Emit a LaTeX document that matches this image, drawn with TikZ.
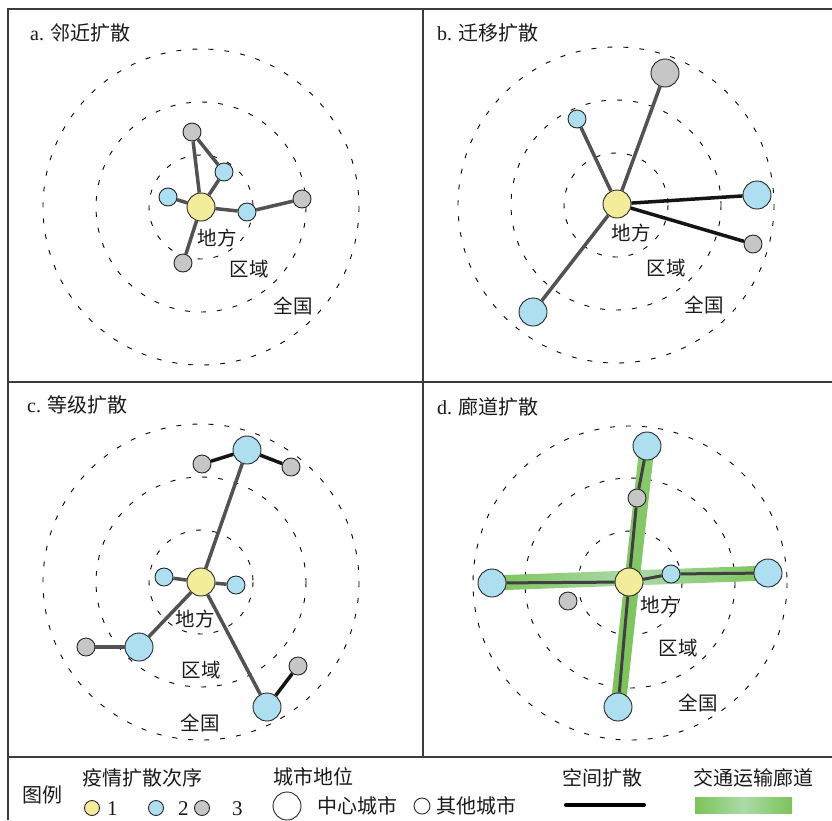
\documentclass[tikz,border=0pt]{standalone}
\usepackage{fontspec}
\setmainfont{Liberation Serif}
\newfontfamily\cjk{Noto Sans CJK SC}
\usetikzlibrary{calc,backgrounds}
\definecolor{yel}{HTML}{F2EC9B}
\definecolor{blu}{HTML}{AEDFF1}
\definecolor{gry}{HTML}{C6C6C6}
\definecolor{edgegray}{HTML}{525252}
\definecolor{framec}{HTML}{3C3C3C}
\definecolor{gdark}{HTML}{7CC35A}
\definecolor{glight}{HTML}{ABDAA8}
\definecolor{txt}{HTML}{1A1A1A}
\begin{document}
\begin{tikzpicture}[x=1pt,y=-1pt,
  city/.style={circle,draw=black!85,line width=0.9pt,inner sep=0pt},
  bigcity/.style={city,minimum size=28pt},
  smallcity/.style={city,minimum size=18pt},
  cen/.style={bigcity,fill=yel},
  bb/.style={bigcity,fill=blu},
  sb/.style={smallcity,fill=blu},
  bg/.style={bigcity,fill=gry},
  sg/.style={smallcity,fill=gry},
  ring/.style={draw=black,line width=0.9pt,dash pattern=on 5pt off 11pt},
  link/.style={draw=edgegray,line width=3.5pt},
  blink/.style={draw=black!92,line width=3.5pt},
  clink/.style={draw=black!75,line width=3pt},
  lbl/.style={font=\cjk\fontsize{19.5}{20}\selectfont,inner sep=0pt,text=txt},
  ttl/.style={anchor=west,font=\fontsize{20}{22}\selectfont,inner sep=0pt,text=txt},
  leg/.style={anchor=west,font=\cjk\fontsize{20}{22}\selectfont,inner sep=0pt,text=txt},
  legnum/.style={anchor=west,font=\fontsize{21}{22}\selectfont,inner sep=0pt,text=txt},
  framel/.style={draw=framec,line width=2.8pt}
]
\useasboundingbox (0,0) rectangle (832,820);

% frame
\draw[framel] (8,820) -- (8,9) -- (832,9);
\draw[framel] (423,9) -- (423,757);
\draw[framel] (8,382) -- (832,382);
\draw[framel] (8,757) -- (832,757);

% ---------- panel a ----------
\node[ttl] (ta) at (30,33) {a. {\cjk 邻近扩散}};
\node[cen] (ca) at (201,207) {};
\node[sb] (a1) at (168,197) {};
\node[sb] (a2) at (224,172) {};
\node[sb] (a3) at (247,212) {};
\node[sg] (a4) at (192,132) {};
\node[sg] (a5) at (302,199) {};
\node[sg] (a6) at (183,263) {};
\draw[link] (ca) -- (a4);
\draw[link] (a4) -- (a2);
\draw[link] (a2) -- (ca);
\draw[link] (ca) -- (a1);
\draw[link] (ca) -- (a3);
\draw[link] (a3) -- (a5);
\draw[link] (ca) -- (a6);
\node[lbl] (la1) at (217,238) {地方};
\node[lbl] (la2) at (249,269) {区域};
\node[lbl] (la3) at (293,306) {全国};

% ---------- panel b ----------
\node[ttl] (tb) at (437,33) {b. {\cjk 迁移扩散}};
\node[cen] (cb) at (617,204) {};
\node[bg] (b1) at (665,73) {};
\node[sb] (b2) at (577,119) {};
\node[bb] (b3) at (757,195) {};
\node[sg] (b4) at (753,244) {};
\node[bb] (b5) at (533,312) {};
\draw[link] (cb) -- (b1);
\draw[link] (cb) -- (b2);
\draw[blink] (cb) -- (b3);
\draw[blink] (cb) -- (b4);
\draw[link] (cb) -- (b5);
\node[lbl] (lb1) at (631,233) {地方};
\node[lbl] (lb2) at (666,268) {区域};
\node[lbl] (lb3) at (704,305) {全国};

% ---------- panel c ----------
\node[ttl] (tc) at (27,405) {c. {\cjk 等级扩散}};
\node[cen] (cc) at (201,582) {};
\node[sb] (c1) at (164,577) {};
\node[sb] (c2) at (236,585) {};
\node[bb] (c3) at (247,450) {};
\node[sg] (c4) at (202,464) {};
\node[sg] (c5) at (291,467) {};
\node[bb] (c6) at (139,647) {};
\node[sg] (c7) at (86,647) {};
\node[bb] (c8) at (267,707) {};
\node[sg] (c9) at (298,666) {};
\draw[link] (cc) -- (c3);
\draw[blink] (c3) -- (c4);
\draw[blink] (c3) -- (c5);
\draw[link] (cc) -- (c1);
\draw[link] (cc) -- (c2);
\draw[link] (cc) -- (c6);
\draw[link,line width=4pt] (c6) -- (c7);
\draw[link] (cc) -- (c8);
\draw[blink] (c8) -- (c9);
\node[lbl] (lc1) at (195,619) {地方};
\node[lbl] (lc2) at (201,670) {区域};
\node[lbl] (lc3) at (200,723) {全国};

% ---------- panel d ----------
\node[ttl] (td) at (437,407) {d. {\cjk 廊道扩散}};
\node[cen] (cd) at (629,582) {};
\node[bb] (d1) at (647,446) {};
\node[sg] (d2) at (637,498) {};
\node[bb] (d3) at (492,583) {};
\node[sg] (d4) at (568,601) {};
\node[sb] (d5) at (671,574) {};
\node[bb] (d6) at (768,573) {};
\node[bb] (d7) at (618,707) {};
\draw[clink] (d1) -- (d2);
\draw[clink] (d2) -- (cd);
\draw[clink] (cd) -- (d7);
\draw[clink] (d3) -- (cd);
\draw[clink] (cd) -- (d5);
\draw[clink] (d5) -- (d6);
\node[lbl] (ld1) at (660,605) {地方};
\node[lbl] (ld2) at (678,648) {区域};
\node[lbl] (ld3) at (698,703) {全国};

% ---------- legend ----------
\node[leg,anchor=center] (lgt) at (42,795) {图例};
\node[leg] (lg1) at (82,778) {疫情扩散次序};
\node[city,fill=yel,minimum size=15pt] (lo1) at (92,808) {};
\node[legnum] (ln1) at (107,809) {1};
\node[city,fill=blu,minimum size=15pt] (lo2) at (156,808) {};
\node[legnum] (ln2) at (178,809) {2};
\node[city,fill=gry,minimum size=15pt] (lo3) at (202,808) {};
\node[legnum] (ln3) at (232,809) {3};
\node[leg] (lg2) at (273,777) {城市地位};
\node[city,fill=white,minimum size=28pt] (lcb) at (287,806) {};
\node[leg] (lg3) at (317,806) {中心城市};
\node[city,fill=white,minimum size=16pt] (lcs) at (422,806) {};
\node[leg] (lg4) at (436,806) {其他城市};
\node[leg] (lg5) at (562,778) {空间扩散};
\coordinate (sl1) at (566,805);
\coordinate (sl2) at (644,805);
\draw[black,line width=4pt,line cap=round] (sl1) -- (sl2);
\node[leg] (lg6) at (693,778) {交通运输廊道};
\shade[left color=gdark,right color=gdark,middle color=glight] (695,797) rectangle (792,813);

% ---------- background: rings and corridors ----------
\begin{pgfonlayer}{background}
\fill[white] (0,0) rectangle (832,820);
\foreach \r in {52,105,158} {
  \draw[ring] (201,207) circle[radius=\r];
  \draw[ring] (616,205) circle[radius=\r];
  \draw[ring] (201,582) circle[radius=\r];
}
\foreach \r in {52,105,157} {
  \draw[ring] (630,583) circle[radius=\r];
}
\shade[left color=gdark,right color=gdark,middle color=glight]
  ($(d3.center)!7.5pt!90:(d6.center)$) -- ($(d6.center)!7.5pt!-90:(d3.center)$)
  -- ($(d6.center)!7.5pt!90:(d3.center)$) -- ($(d3.center)!7.5pt!-90:(d6.center)$) -- cycle;
\shade[top color=gdark!75!glight,middle color=glight!70!gdark,bottom color=gdark]
  ($(d1.center)!7.5pt!90:(d7.center)$) -- ($(d7.center)!7.5pt!-90:(d1.center)$)
  -- ($(d7.center)!7.5pt!90:(d1.center)$) -- ($(d1.center)!7.5pt!-90:(d7.center)$) -- cycle;
\end{pgfonlayer}
\end{tikzpicture}
\end{document}
